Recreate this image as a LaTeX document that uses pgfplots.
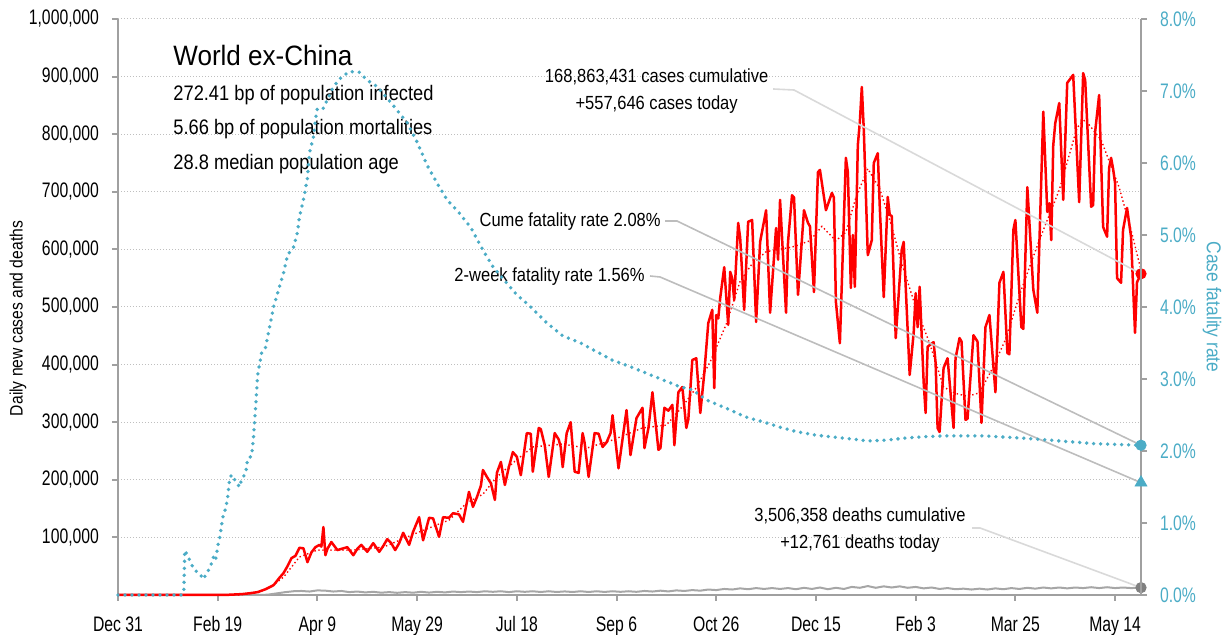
\documentclass[border=0pt]{standalone}
\usepackage{fontspec}
\setmainfont{Liberation Sans}[FakeStretch=0.87]
\newfontfamily\tickfont{Liberation Sans}[FakeStretch=0.75]
\newfontfamily\titlefont{Liberation Sans}[FakeStretch=0.93]
\usepackage{pgfplots}
\pgfplotsset{compat=1.18}
\definecolor{cfrblue}{HTML}{4BACC6}
\definecolor{axisgray}{HTML}{A0A0A0}
\definecolor{gridgray}{HTML}{BFBFBF}
\definecolor{deathgray}{HTML}{A6A6A6}
\definecolor{leadgray}{HTML}{BDBDBD}
\definecolor{leadlight}{HTML}{D9D9D9}
\definecolor{markgray}{HTML}{808080}
\begin{document}
\begin{tikzpicture}
\useasboundingbox (-59pt,-20pt) rectangle (553.5pt,297.5pt);
\begin{axis}[
  scale only axis, width=511.5pt, height=288pt,
  xmin=0, xmax=513, ymin=0, ymax=1000000,
  axis y line*=left, axis x line*=bottom,
  axis line style={axisgray, line width=1pt, -},
  tick style={axisgray, line width=1pt},
  tick align=outside, major tick length=3pt,
  xtick={0,50,...,500},
  xticklabels={Dec 31, Feb 19, Apr 9, May 29, Jul 18, Sep 6, Oct 26, Dec 15, Feb 3, Mar 25, May 14},
  ytick={100000,200000,...,1000000},
  scaled y ticks=false,
  /pgf/number format/assume math mode=true,
  y tick label style={font=\tickfont\fontsize{10.5}{12}\selectfont, xshift=-3pt, /pgf/number format/fixed, /pgf/number format/precision=0, /pgf/number format/1000 sep={,}},
  x tick label style={font=\tickfont\fontsize{10.5}{12}\selectfont, text height=8pt, text depth=2.2pt, yshift=-3.5pt},
  ymajorgrids, major grid style={gridgray, line width=0.5pt, dash pattern=on 0.5pt off 1pt},
  clip=false,
]
% deaths
\addplot[deathgray, line width=1pt] coordinates {
(0,0) (60,0) (70,100) (75,500) (80,3000) (84,5000) (88,6500) (92,7000) (96,6000) (100,8000) (104,7500) (108,6000) (112,7000) (116,5000) (120,6000) (124,4500) (128,5500) (132,4000) (136,5000) (140,3800) (144,5000) (148,4000) (152,5500) (156,4200) (160,5500) (164,4500) (168,6000) (172,5000) (176,6000) (180,5000) (184,6500) (188,5500) (192,6500) (196,5000) (200,6500) (204,5500) (208,6500) (212,5200) (216,6500) (220,5200) (224,6200) (228,5200) (232,6500) (236,5200) (240,6500) (244,5300) (248,6500) (252,5500) (256,6500) (260,5500) (264,7000) (268,6000) (272,7500) (276,6200) (280,8000) (284,7000) (288,8500) (292,7500) (296,9500) (300,8500) (304,10500) (308,9500) (312,11500) (316,10000) (320,12000) (324,10500) (328,12000) (332,10500) (336,12000) (340,10000) (344,12500) (348,10500) (352,13000) (356,10000) (360,12500) (364,10500) (368,14000) (372,12500) (376,15500) (380,12500) (384,15000) (388,13000) (392,15000) (396,12500) (400,14000) (404,11500) (408,13000) (412,10500) (416,12000) (420,10000) (424,11000) (428,9500) (432,11000) (436,9500) (440,11500) (444,10000) (448,12000) (452,10500) (456,12500) (460,11000) (464,13000) (468,11500) (472,13000) (476,11500) (480,13000) (484,12000) (488,13500) (492,12000) (496,13500) (500,12000) (504,13000) (508,12000) (513,12761)
};
% daily cases
\addplot[red, line width=1.25pt, line join=round] coordinates {
(0,0) (40,0) (55,300) (62,1500) (66,3000) (70,5000) (74,10000) (78,17000) (81,30000) (83,38000) (85,50000) (87,64000) (89,68000) (91,82000) (93,81000) (95,57000) (97,74000) (99,83000) (101,87000) (102,84000) (103,118000) (104,69000) (105,80000) (107,92000) (110,78000) (112,80000) (115,83000) (118,69000) (120,80000) (122,87000) (125,75000) (128,90000) (131,75000) (133,85000) (135,97000) (137,90000) (139,78000) (141,90000) (143,108000) (146,87000) (148,110000) (151,135000) (153,95000) (156,134000) (158,133000) (161,101000) (163,135000) (166,134000) (168,142000) (171,140000) (173,127000) (176,179000) (178,153000) (180,170000) (182,190000) (183,217000) (185,205000) (187,194000) (189,165000) (190,212000) (192,231000) (194,191000) (196,222000) (198,248000) (200,240000) (202,208000) (205,281000) (207,280000) (208,214000) (211,290000) (212,288000) (214,260000) (216,205000) (219,281000) (221,270000) (222,257000) (223,222000) (225,281000) (227,300000) (229,214000) (231,212000) (233,281000) (234,264000) (236,205000) (239,281000) (241,280000) (243,257000) (245,265000) (247,281000) (248,312000) (251,220000) (255,321000) (257,243000) (260,307000) (263,325000) (264,255000) (266,290000) (268,352000) (271,252000) (272,255000) (274,325000) (276,320000) (278,330000) (279,260000) (281,352000) (283,361000) (285,290000) (286,305000) (288,408000) (290,411000) (292,316000) (294,385000) (296,472000) (298,495000) (299,359000) (300,486000) (301,480000) (302,516000) (304,569000) (306,469000) (307,561000) (308,550000) (309,512000) (311,646000) (312,620000) (314,495000) (316,648000) (318,651000) (320,474000) (322,613000) (325,668000) (327,490000) (330,637000) (331,582000) (332,686000) (335,490000) (336,613000) (338,694000) (339,690000) (341,521000) (344,668000) (346,646000) (347,640000) (349,526000) (351,734000) (352,738000) (355,668000) (358,698000) (359,690000) (360,509000) (362,437000) (365,759000) (366,734000) (367.5,533000) (368.5,625000) (369.5,535000) (371,781000) (372,821000) (373,882000) (374,807000) (376,590000) (378,616000) (379,750000) (381,767000) (382,674000) (384,517000) (386,691000) (387,660000) (388,658000) (390,446000) (393,599000) (394,613000) (397,382000) (399,455000) (400,524000) (401,465000) (402,535000) (404,370000) (405,316000) (406,431000) (409,439000) (410,403000) (411,290000) (412,283000) (414,394000) (416,411000) (419,290000) (420,411000) (422,446000) (423,440000) (425,304000) (426,306000) (429,451000) (431,440000) (433,299000) (435,465000) (437,486000) (440,352000) (442,542000) (444,561000) (446,420000) (447,418000) (449,634000) (450,651000) (453,465000) (454,462000) (456,708000) (459,530000) (461,490000) (464,839000) (466,665000) (467,680000) (468,616000) (469,781000) (470,819000) (472,854000) (474,686000) (476,889000) (479,903000) (482,682000) (484,906000) (485,894000) (488,674000) (489,677000) (490,804000) (492,868000) (494,639000) (496,622000) (497,741000) (498,759000) (499,740000) (500,715000) (501,550000) (503,542000) (504,634000) (506,672000) (508,622000) (510,455000) (511,543000) (513,557646)
};
% 7-day average
\addplot[red, line width=0.7pt, dash pattern=on 0.7pt off 1.3pt] coordinates {
(0,0) (60,0) (70,4000) (77,15000) (83,31000) (91,66000) (100,78000) (118,78000) (133,83000) (150,108000) (166,130000) (175,160000) (183,175000) (190,205000) (200,235000) (208,257000) (223,262000) (235,255000) (248,269000) (263,290000) (275,295000) (283,327000) (290,360000) (297,405000) (305,470000) (312,545000) (318,575000) (325,596000) (338,604000) (347,615000) (353,640000) (360,615000) (365,630000) (370,690000) (376,740000) (382,705000) (388,640000) (393,576000) (400,500000) (407,437000) (414,361000) (420,350000) (426,345000) (432,351000) (438,390000) (445,443000) (453,530000) (462,616000) (472,703000) (481,812000) (485,825000) (493,790000) (502,708000) (508,634000) (513,564000)
};
% leader lines
\draw[leadlight, line width=0.8pt] (axis cs:328.5,878500) -- (axis cs:339,876700) -- (axis cs:513,557646);
\draw[leadgray, line width=0.8pt] (axis cs:274.3,649300) -- (axis cs:280.3,649300) -- (axis cs:513,260000);
\draw[leadgray, line width=0.8pt] (axis cs:266.8,553800) -- (axis cs:271.8,552100) -- (axis cs:513,195000);
\draw[leadlight, line width=0.8pt] (axis cs:428.3,116300) -- (axis cs:432.3,116300) -- (axis cs:513,12761);
% end markers
\addplot[only marks, mark=*, mark size=2.6pt, red] coordinates {(513,557646)};
\addplot[only marks, mark=*, mark size=2.6pt, markgray] coordinates {(513,12761)};
% texts
\node[anchor=base west, inner sep=0pt, font=\titlefont\fontsize{14}{17}\selectfont] at (axis cs:27.6,920000) {World ex-China};
\node[anchor=base west, inner sep=0pt, font=\fontsize{10.5}{12}\selectfont] at (axis cs:27.6,859000) {272.41 bp of population infected};
\node[anchor=base west, inner sep=0pt, font=\fontsize{10.5}{12}\selectfont] at (axis cs:27.6,799000) {5.66 bp of population mortalities};
\node[anchor=base west, inner sep=0pt, font=\fontsize{10.5}{12}\selectfont] at (axis cs:27.6,738000) {28.8 median population age};
\node[align=center, font=\fontsize{9.5}{13.5}\selectfont] at (axis cs:270.1,874000) {168,863,431 cases cumulative\\+557,646 cases today};
\node[anchor=east, inner sep=0pt, font=\fontsize{9.5}{11}\selectfont] at (axis cs:272.3,649000) {Cume fatality rate 2.08\%};
\node[anchor=east, inner sep=0pt, font=\fontsize{9.5}{11}\selectfont] at (axis cs:264.3,552000) {2-week fatality rate 1.56\%};
\node[align=center, font=\fontsize{9.5}{13.5}\selectfont] at (axis cs:372.1,112000) {3,506,358 deaths cumulative\\+12,761 deaths today};
\node[rotate=90, font=\fontsize{9}{11}\selectfont] at ([xshift=-50pt]rel axis cs:0,0.48) {Daily new cases and deaths};
\end{axis}
\begin{axis}[
  scale only axis, width=511.5pt, height=288pt,
  xmin=0, xmax=513, ymin=0, ymax=8,
  axis y line*=right, axis x line=none,
  axis line style={axisgray, line width=1pt, -},
  tick style={axisgray, line width=1pt},
  tick align=outside, major tick length=3pt,
  ytick={0,1,...,8},
  /pgf/number format/assume math mode=true,
  yticklabel={\pgfmathprintnumber[fixed,fixed zerofill,precision=1]{\tick}\%},
  y tick label style={font=\tickfont\fontsize{10.5}{12}\selectfont, text=cfrblue, xshift=3pt},
  clip=false,
]
\addplot[cfrblue, line width=1.9pt, line cap=round, dash pattern=on 0pt off 3.5pt] coordinates {
(0,0) (32,0) (33,0.05) (33.5,0.62) (35,0.54) (38,0.36) (41,0.29) (43,0.22) (44,0.29) (46,0.37) (48,0.54) (49,0.49) (50,0.68) (51,0.79) (52.5,1.08) (53,1.1) (54,1.21) (55,1.35) (56,1.62) (57,1.67) (59,1.58) (61,1.5) (62,1.61) (64,1.69) (65,1.89) (67,1.93) (68,2.2) (69,2.6) (70,3.05) (72,3.36) (74,3.44) (76,3.72) (78,4.0) (80,4.19) (83,4.47) (85,4.72) (88,4.83) (90,5.04) (91,5.25) (93,5.49) (95,5.79) (96,6.14) (98,6.36) (99,6.6) (100,6.76) (103,6.76) (105,6.88) (108,7.06) (112,7.19) (116,7.27) (121,7.26) (125,7.15) (130,7.06) (138,6.8) (145,6.56) (150,6.29) (155,5.97) (160,5.72) (165,5.49) (171,5.31) (177,5.1) (183,4.79) (188,4.56) (195,4.33) (200,4.17) (207,4.0) (215,3.78) (223,3.6) (232,3.5) (240,3.38) (248,3.26) (257,3.17) (265,3.08) (273,2.99) (282,2.89) (288,2.85) (295,2.71) (307,2.57) (315,2.47) (324,2.4) (332,2.33) (340,2.27) (350,2.22) (360,2.19) (370,2.16) (376,2.14) (385,2.15) (395,2.18) (405,2.2) (414,2.21) (434,2.21) (453,2.18) (472,2.14) (491,2.1) (513,2.08)
};
\addplot[only marks, mark=*, mark size=2.6pt, cfrblue] coordinates {(513,2.08)};
\addplot[only marks, mark=triangle*, mark size=3.4pt, cfrblue] coordinates {(513,1.56)};
\node[rotate=-90, text=cfrblue, font=\fontsize{10}{12}\selectfont] at ([xshift=35.5pt]rel axis cs:1,0.5) {Case fatality rate};
\end{axis}
\end{tikzpicture}
\end{document}
